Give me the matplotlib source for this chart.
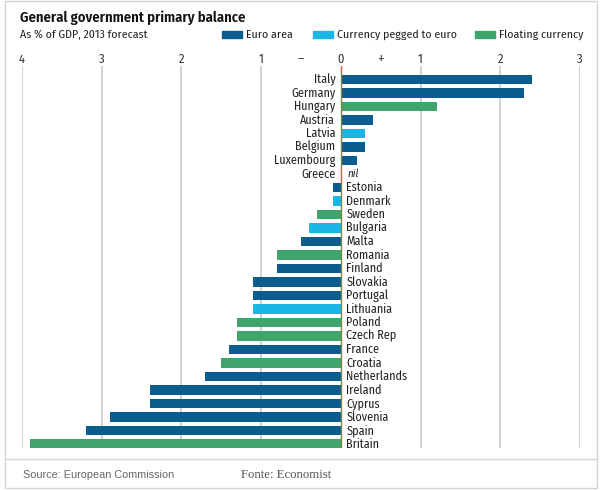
import matplotlib
matplotlib.use("Agg")
import matplotlib.pyplot as plt
from matplotlib.patches import Rectangle
from matplotlib.lines import Line2D

countries = ["Italy", "Germany", "Hungary", "Austria", "Latvia", "Belgium", "Luxembourg",
             "Greece", "Estonia", "Denmark", "Sweden", "Bulgaria", "Malta", "Romania",
             "Finland", "Slovakia", "Portugal", "Lithuania", "Poland", "Czech Rep", "France",
             "Croatia", "Netherlands", "Ireland", "Cyprus", "Slovenia", "Spain", "Britain"]
values = [2.4, 2.3, 1.2, 0.4, 0.3, 0.3, 0.2,
          0.0, -0.1, -0.1, -0.3, -0.4, -0.5, -0.8,
          -0.8, -1.1, -1.1, -1.1, -1.3, -1.3, -1.4,
          -1.5, -1.7, -2.4, -2.4, -2.9, -3.2, -3.9]
groups = ["euro", "euro", "float", "euro", "peg", "euro", "euro",
          "euro", "euro", "peg", "float", "peg", "euro", "float",
          "euro", "euro", "euro", "peg", "float", "float", "euro",
          "float", "euro", "euro", "euro", "euro", "euro", "float"]
group_names = {"euro": "Euro area", "peg": "Currency pegged to euro", "float": "Floating currency"}
colors = {"euro": "#0b5d8d", "peg": "#1ab7e6", "float": "#3fa56c"}
tick_vals = [-4, -3, -2, -1, 0, 1, 2, 3]

plt.rcParams['font.family'] = ['Fira Sans Condensed', 'DejaVu Sans']

fig = plt.figure(figsize=(6.06, 4.90), dpi=100)
W, H = 606, 490

def fx(px):
    return px / W

def fy(py):
    return 1 - py / H

# outer frame and footer separator
fig.add_artist(Rectangle((fx(5), fy(488)), fx(592), (488 - 1) / H, transform=fig.transFigure,
                         fill=False, edgecolor="#d4d4d4", lw=1))
fig.add_artist(Line2D([fx(5), fx(597)], [fy(459), fy(459)], transform=fig.transFigure,
                      color="#d4d4d4", lw=1))

ax_top, ax_bot = 66, 448
ax = fig.add_axes([fx(22), fy(ax_bot), fx(580 - 22), (ax_bot - ax_top) / H])
n = len(countries)
ypos = list(range(n))
ax.barh(ypos, values, height=0.7, color=[colors[g] for g in groups], zorder=2)
ax.set_xlim(-4, 3)
ax.set_ylim(n - 1 + 0.3, -1.0)
for t in tick_vals:
    if t != 0:
        ax.axvline(t, color="#d2d2d2", lw=1.5, zorder=1)
ax.axvline(0, color="#e2534a", lw=1, zorder=3)
ax.axis("off")

for y, c, v in zip(ypos, countries, values):
    if v > 0 or c == "Greece":
        ax.text(-0.07, y, c, ha="right", va="center", fontsize=8.7, color="#222222")
    else:
        ax.text(0.07, y, c, ha="left", va="center", fontsize=8.7, color="#222222")
    if c == "Greece":
        ax.text(0.08, y, "nil", ha="left", va="center", fontsize=8, style="italic", color="#222222")

# top scale labels
lab_y = 1.0 + 7 / (ax_bot - ax_top)
xt = ax.get_xaxis_transform()
for t in tick_vals:
    ax.text(t, lab_y, str(abs(t)), transform=xt, ha="center", va="center",
            fontsize=9, color="#333333")
ax.text(-0.5, lab_y, "\u2013", transform=xt, ha="center", va="center", fontsize=9.5, color="#444444")
ax.text(0.5, lab_y, "+", transform=xt, ha="center", va="center", fontsize=10.5, color="#444444")

# titles
fig.text(fx(20), fy(18), "General government primary balance", fontsize=10.5,
         fontweight="semibold", ha="left", va="center", color="#111111")
fig.text(fx(20), fy(35), "As % of GDP, 2013 forecast", fontsize=8.5,
         ha="left", va="center", color="#222222")

# legend
leg_x = {"euro": 222, "peg": 313, "float": 475}
for g in ["euro", "peg", "float"]:
    fig.add_artist(Rectangle((fx(leg_x[g]), fy(38)), fx(20), 7 / H, transform=fig.transFigure,
                             color=colors[g]))
    fig.text(fx(leg_x[g] + 24), fy(35), group_names[g], fontsize=8.5, ha="left", va="center",
             color="#222222")

# footer
fig.text(fx(23), fy(475), "Source: European Commission", fontsize=7.8, ha="left", va="center",
         color="#666666", family="Liberation Sans")
fig.text(fx(241), fy(475), "Fonte: Economist", fontsize=9.2, ha="left", va="center",
         color="#555555", family="Liberation Serif")

fig.savefig("out.png", dpi=100)
